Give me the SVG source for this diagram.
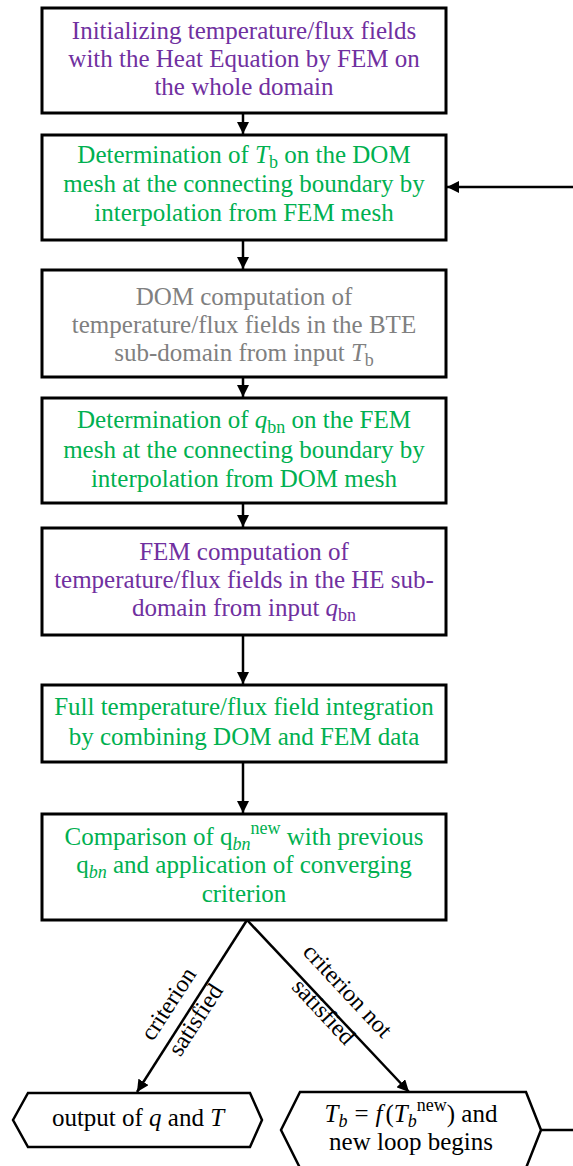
<svg xmlns="http://www.w3.org/2000/svg" width="573" height="1166" viewBox="0 0 573 1166">
<style>
.box{fill:#fff;stroke:#000;stroke-width:3}
.t{font-family:"Liberation Serif","Times New Roman",serif;font-size:25px;text-anchor:middle}
.p{fill:#7030A0}.g{fill:#00B050}.gr{fill:#808080}.k{fill:#000}
.i{font-style:italic}
.s{font-size:18px}
.c{fill:none;stroke:#000;stroke-width:2.5}
.lb{font-family:"Liberation Serif","Times New Roman",serif;font-size:24px;text-anchor:middle;fill:#000}
</style>
<defs>
<marker id="ah" viewBox="0 0 12 12" markerUnits="userSpaceOnUse" markerWidth="12" markerHeight="12" refX="12" refY="6" orient="auto">
<path d="M0,0 L12,6 L0,12 z" fill="#000"/>
</marker>
</defs>
<g id="connectors">
<line class="c" x1="243" y1="113" x2="243" y2="134" marker-end="url(#ah)"/>
<line class="c" x1="243" y1="240" x2="243" y2="269" marker-end="url(#ah)"/>
<line class="c" x1="243" y1="377" x2="243" y2="397" marker-end="url(#ah)"/>
<line class="c" x1="243" y1="503" x2="243" y2="527" marker-end="url(#ah)"/>
<line class="c" x1="243" y1="635" x2="243" y2="684" marker-end="url(#ah)"/>
<line class="c" x1="243" y1="762" x2="243" y2="813" marker-end="url(#ah)"/>
<line class="c" x1="247" y1="920" x2="137" y2="1092" marker-end="url(#ah)"/>
<line class="c" x1="247" y1="920" x2="409" y2="1092" marker-end="url(#ah)"/>
<polyline class="c" points="541,1130 576,1130 576,187 447,187" marker-end="url(#ah)"/>
<text class="lb" transform="translate(175,1008) rotate(-57)">criterion</text>
<text class="lb" transform="translate(202,1024) rotate(-57)">satisfied</text>
<text class="lb" transform="translate(342,996) rotate(47)">criterion not</text>
<text class="lb" transform="translate(318,1017) rotate(47)">satisfied</text>
</g>
<g id="n1">
<rect class="box" x="42" y="8" width="404" height="105"/>
<text class="t p" x="244" y="39">Initializing temperature/flux fields</text>
<text class="t p" x="244" y="67">with the Heat Equation by FEM on</text>
<text class="t p" x="244" y="95">the whole domain</text>
</g>
<g id="n2">
<rect class="box" x="42" y="135" width="404" height="105"/>
<text class="t g" x="244" y="163">Determination of <tspan class="i">T</tspan><tspan class="s" dy="5">b</tspan><tspan dy="-5"> on the DOM</tspan></text>
<text class="t g" x="244" y="192">mesh at the connecting boundary by</text>
<text class="t g" x="244" y="221">interpolation from FEM mesh</text>
</g>
<g id="n3">
<rect class="box" x="42" y="270" width="404" height="107"/>
<text class="t gr" x="244" y="305">DOM computation of</text>
<text class="t gr" x="244" y="333">temperature/flux fields in the BTE</text>
<text class="t gr" x="244" y="361">sub-domain from input <tspan class="i">T</tspan><tspan class="s" dy="5">b</tspan></text>
</g>
<g id="n4">
<rect class="box" x="42" y="398" width="404" height="105"/>
<text class="t g" x="244" y="428">Determination of <tspan class="i">q</tspan><tspan class="s" dy="5">bn</tspan><tspan dy="-5"> on the FEM</tspan></text>
<text class="t g" x="244" y="458">mesh at the connecting boundary by</text>
<text class="t g" x="244" y="487">interpolation from DOM mesh</text>
</g>
<g id="n5">
<rect class="box" x="42" y="528" width="404" height="107"/>
<text class="t p" x="244" y="560">FEM computation of</text>
<text class="t p" x="244" y="588">temperature/flux fields in the HE sub-</text>
<text class="t p" x="244" y="616">domain from input <tspan class="i">q</tspan><tspan class="s" dy="5">bn</tspan></text>
</g>
<g id="n6">
<rect class="box" x="42" y="685" width="404" height="77"/>
<text class="t g" x="244" y="715">Full temperature/flux field integration</text>
<text class="t g" x="244" y="745">by combining DOM and FEM data</text>
</g>
<g id="n7">
<rect class="box" x="42" y="814" width="404" height="106"/>
<text class="t g" x="244" y="845">Comparison of q<tspan class="s i" dy="5">bn</tspan><tspan class="s" dy="-16">new</tspan><tspan dy="11"> with previous</tspan></text>
<text class="t g" x="244" y="873">q<tspan class="s i" dy="5">bn</tspan><tspan dy="-5"> and application of converging</tspan></text>
<text class="t g" x="244" y="902">criterion</text>
</g>
<g id="n8">
<polygon class="box" points="13,1120 28,1093 250,1093 262,1120 250,1147 28,1147" style="stroke-width:2.5"/>
<text class="t k" x="138" y="1126">output of <tspan class="i">q</tspan> and <tspan class="i">T</tspan></text>
</g>
<g id="n9">
<polygon class="box" points="281,1130 300,1092 526,1092 541,1130 526,1168 300,1168" style="stroke-width:2.5"/>
<text class="t k" x="411" y="1122"><tspan class="i">T</tspan><tspan class="s i" dy="5">b</tspan><tspan dy="-5" dx="7">=</tspan><tspan class="i" dx="7">f</tspan><tspan dx="3">(</tspan><tspan class="i">T</tspan><tspan class="s i" dy="5">b</tspan><tspan class="s" dy="-16">new</tspan><tspan dy="11">) and</tspan></text>
<text class="t k" x="411" y="1150">new loop begins</text>
</g>
</svg>
